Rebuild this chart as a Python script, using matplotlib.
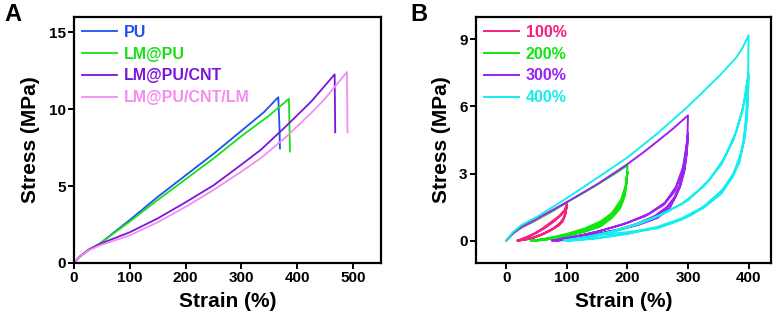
import matplotlib.pyplot as plt

# ----------------------------------------------------
# Panel A: tensile curves (strain %, stress MPa)
# ----------------------------------------------------
a_labels = ["PU", "LM@PU", "LM@PU/CNT", "LM@PU/CNT/LM"]
a_colors = ["#1e50f0", "#18e018", "#7a16d8", "#f58cf0"]

pu_x = [0, 10, 25, 47, 100, 150, 200, 250, 300, 340, 366, 368, 369]
pu_y = [0, 0.4, 0.8, 1.28, 2.8, 4.3, 5.7, 7.1, 8.6, 9.8, 10.78, 9.0, 7.45]

lmpu_x = [0, 10, 25, 47, 100, 150, 200, 250, 300, 350, 385, 386, 387]
lmpu_y = [0, 0.4, 0.8, 1.28, 2.7, 4.1, 5.45, 6.8, 8.25, 9.6, 10.68, 9.0, 7.25]

cnt_x = [0, 10, 25, 47, 100, 150, 200, 250, 300, 335, 380, 425, 467, 468]
cnt_y = [0, 0.4, 0.85, 1.25, 2.0, 2.9, 3.95, 5.05, 6.4, 7.37, 8.9, 10.5, 12.27, 8.5]

cntlm_x = [0, 10, 25, 47, 100, 150, 200, 250, 300, 335, 380, 425, 450, 489, 490]
cntlm_y = [0, 0.38, 0.8, 1.15, 1.8, 2.65, 3.65, 4.75, 5.95, 6.83, 8.2, 9.76, 10.7, 12.42, 8.5]

# ----------------------------------------------------
# Panel B: cyclic loading at 100/200/300/400 % strain
# each path = first loading followed by unload / reload cycles
# ----------------------------------------------------
b_labels = ["100%", "200%", "300%", "400%"]
b_colors = ["#f5207f", "#10e610", "#9b22f2", "#14eeee"]

c100_x = [0, 5, 10, 20, 30, 45, 60, 80, 100,
          99, 97, 93, 87, 75, 60, 45, 30, 18,
          30, 45, 60, 75, 88, 96, 100,
          98, 95, 89, 78, 63, 48, 33, 20,
          32, 47, 62, 77, 89, 96, 100,
          98, 94, 88, 76, 61, 46, 31, 19]
c100_y = [0, 0.15, 0.3, 0.5, 0.65, 0.85, 1.08, 1.38, 1.72,
          1.4, 1.1, 0.85, 0.68, 0.48, 0.28, 0.13, 0.04, 0,
          0.12, 0.3, 0.55, 0.85, 1.12, 1.35, 1.6,
          1.25, 1.0, 0.78, 0.55, 0.33, 0.16, 0.05, 0,
          0.12, 0.3, 0.53, 0.82, 1.1, 1.33, 1.58,
          1.25, 0.98, 0.75, 0.52, 0.31, 0.15, 0.05, 0]

c200_x = [0, 10, 25, 50, 75, 100, 125, 150, 175, 200,
          199, 197, 192, 183, 170, 155, 130, 100, 75, 55, 40,
          60, 80, 100, 130, 155, 175, 190, 197, 200,
          198, 195, 188, 175, 155, 130, 100, 75, 55, 45,
          65, 85, 105, 130, 155, 175, 190, 197, 200,
          198, 195, 188, 175, 155, 130, 100, 75, 58, 48]
c200_y = [0, 0.3, 0.6, 0.95, 1.3, 1.72, 2.1, 2.5, 2.92, 3.36,
          2.8, 2.3, 1.85, 1.45, 1.12, 0.85, 0.55, 0.3, 0.14, 0.04, 0,
          0.06, 0.15, 0.27, 0.5, 0.8, 1.25, 1.85, 2.45, 3.1,
          2.5, 2.0, 1.5, 1.08, 0.7, 0.43, 0.22, 0.1, 0.03, 0,
          0.05, 0.14, 0.27, 0.48, 0.78, 1.2, 1.8, 2.4, 3.05,
          2.45, 1.95, 1.45, 1.03, 0.62, 0.4, 0.2, 0.08, 0.02, 0]

c300_x = [0, 10, 25, 50, 100, 150, 200, 225, 250, 275, 300,
          299, 297, 293, 287, 278, 270, 250, 220, 188, 150, 120, 100, 80,
          90, 120, 150, 190, 230, 260, 278, 290, 296, 300,
          298, 294, 287, 278, 265, 245, 215, 185, 150, 115, 95, 75,
          100, 130, 160, 200, 235, 262, 280, 292, 300,
          298, 294, 287, 278, 265, 245, 215, 185, 150, 120, 100, 82]
c300_y = [0, 0.3, 0.62, 0.98, 1.72, 2.52, 3.42, 3.92, 4.45, 5.0, 5.6,
          4.6, 3.8, 3.1, 2.5, 1.9, 1.45, 1.02, 0.72, 0.5, 0.28, 0.12, 0.04, 0,
          0.08, 0.22, 0.4, 0.7, 1.1, 1.6, 2.2, 3.0, 3.8, 4.8,
          4.0, 3.2, 2.5, 1.95, 1.5, 1.1, 0.75, 0.5, 0.3, 0.12, 0.04, 0,
          0.1, 0.27, 0.47, 0.8, 1.2, 1.7, 2.4, 3.3, 4.7,
          3.9, 3.1, 2.4, 1.88, 1.45, 1.05, 0.7, 0.47, 0.28, 0.12, 0.04, 0]

c400_x = [0, 10, 25, 50, 100, 150, 200, 250, 300, 353, 380, 390, 400,
          399.5, 398, 395, 391.6, 385, 372, 358.6, 330, 303.6, 275, 248.6, 200, 155, 120, 95,
          130, 170, 210, 250, 290, 325, 355, 375, 390, 400,
          399, 397, 393, 386, 375, 355, 325, 290, 250, 200, 150, 115, 100,
          140, 180, 220, 260, 300, 335, 360, 380, 393, 400,
          399, 397, 393, 386, 375, 355, 325, 290, 250, 200, 150, 118, 104]
c400_y = [0, 0.35, 0.7, 1.05, 1.9, 2.8, 3.72, 4.8, 6.0, 7.4, 8.2, 8.62, 9.18,
          7.8, 6.5, 5.3, 4.4, 3.5, 2.8, 2.31, 1.6, 1.12, 0.8, 0.55, 0.38, 0.25, 0.1, 0,
          0.15, 0.38, 0.7, 1.1, 1.65, 2.4, 3.4, 4.5, 5.8, 7.5,
          6.5, 5.5, 4.6, 3.8, 3.0, 2.2, 1.5, 1.0, 0.62, 0.32, 0.12, 0.03, 0,
          0.18, 0.42, 0.75, 1.2, 1.8, 2.7, 3.7, 4.9, 6.2, 7.4,
          6.4, 5.4, 4.5, 3.7, 2.9, 2.1, 1.45, 0.95, 0.58, 0.3, 0.1, 0.02, 0]

# ----------------------------------------------------
# Figure
# ----------------------------------------------------
plt.rcParams["font.family"] = ["Liberation Sans", "DejaVu Sans"]
plt.rcParams["font.weight"] = "bold"

fig = plt.figure(figsize=(7.82, 3.21), dpi=100)
axA = fig.add_axes([0.0946, 0.1807, 0.3926, 0.7664])
axB = fig.add_axes([0.6087, 0.1807, 0.3772, 0.7664])

a_series = [(pu_x, pu_y), (lmpu_x, lmpu_y), (cnt_x, cnt_y), (cntlm_x, cntlm_y)]
for (x, y), lab, col in zip(a_series, a_labels, a_colors):
    axA.plot(x, y, color=col, lw=1.3, label=lab)

b_series = [(c100_x, c100_y), (c200_x, c200_y), (c300_x, c300_y), (c400_x, c400_y)]
for (x, y), lab, col in zip(b_series, b_labels, b_colors):
    axB.plot(x, y, color=col, lw=1.4, label=lab, solid_joinstyle="round")

axA.set_xlim(0, 550)
axA.set_ylim(0, 16)
axA.set_xticks([0, 100, 200, 300, 400, 500])
axA.set_yticks([0, 5, 10, 15])

axB.set_xlim(-50, 437)
axB.set_ylim(-1, 10)
axB.set_xticks([0, 100, 200, 300, 400])
axB.set_yticks([0, 3, 6, 9])

for ax, letter, lx in [(axA, "A", 0.006), (axB, "B", 0.525)]:
    for s in ax.spines.values():
        s.set_linewidth(1.6)
    ax.tick_params(direction="out", length=4, width=1.4, labelsize=11, pad=2)
    for t in ax.get_xticklabels() + ax.get_yticklabels():
        t.set_fontweight("bold")
    ax.set_xlabel("Strain (%)", fontsize=15, fontweight="bold", labelpad=5)
    ax.set_ylabel("Stress (MPa)", fontsize=15, fontweight="bold", labelpad=6)
    ax.legend(loc="upper left", frameon=False, handlelength=2.2, handletextpad=0.4,
              labelspacing=0.42, borderaxespad=0.2, borderpad=0.3,
              labelcolor="linecolor", prop={"weight": "bold", "size": 11.5})
    fig.text(lx, 0.99, letter, fontsize=17, fontweight="bold", va="top", ha="left")

fig.savefig("out.png", dpi=100)
